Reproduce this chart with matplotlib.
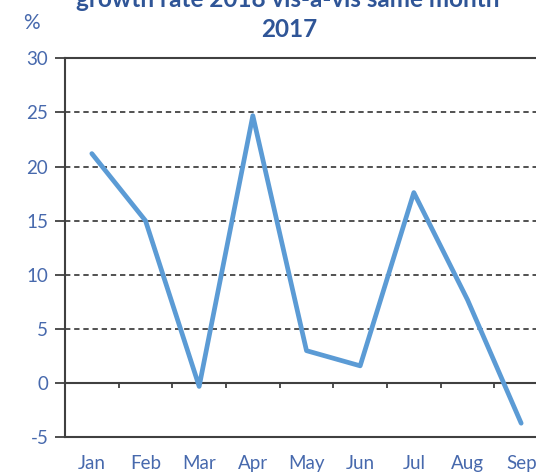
import matplotlib
matplotlib.use('Agg')
import matplotlib.pyplot as plt
import numpy as np

# monthly growth rate, % (2018 vs same month 2017)
months = ['Jan', 'Feb', 'Mar', 'Apr', 'May', 'Jun', 'Jul', 'Aug', 'Sep']
growth = [21.2, 15.0, -0.3, 24.7, 3.0, 1.6, 17.6, 7.7, -3.7]
yticks = [-5, 0, 5, 10, 15, 20, 25, 30]

plt.rcParams['font.family'] = ['Lato', 'DejaVu Sans']

W, H = 536, 475
fig = plt.figure(figsize=(W / 100, H / 100), dpi=100)
ax = fig.add_axes([65 / W, 1 - 437.3 / H, 483 / W, (437.3 - 58.3) / H])

x = np.arange(len(months))
ax.plot(x, growth, color='#5B9BD5', lw=3.4, solid_capstyle='round', solid_joinstyle='round', zorder=3)

ax.set_xlim(-0.5, len(months) - 0.5)
ax.set_ylim(-5, 30)

# dashed gridlines (not at the frame / zero line)
for v in yticks:
    if v not in (-5, 0, 30):
        ax.axhline(v, color='#222222', lw=1.1, ls=(0, (3.5, 2.5)), zorder=1)

# zero line with category boundary ticks
ax.axhline(0, color='#404040', lw=1.5, zorder=2)
bounds = np.arange(len(months) + 1) - 0.5
ax.vlines(bounds[1:], -0.45, 0, color='#404040', lw=1.3, zorder=2)

for s in ['left', 'top', 'bottom']:
    ax.spines[s].set_color('#404040')
    ax.spines[s].set_linewidth(1.5)
ax.spines['right'].set_visible(False)

lab_color = '#4769AD'
ax.set_yticks(yticks)
ax.set_yticklabels([str(v) for v in yticks])
ax.tick_params(axis='y', direction='out', length=7, width=1.3, color='#404040',
               labelcolor=lab_color, labelsize=13.5, pad=5)
ax.set_xticks(x)
ax.set_xticklabels(months)
ax.tick_params(axis='x', length=0, labelcolor=lab_color, labelsize=13.5, pad=12.5)

title_color = '#2F5597'
fig.text(288 / W, 1 - 7 / H, 'growth rate 2018 vis-a-vis same month', ha='center', va='baseline',
         fontsize=17.5, fontweight='bold', color=title_color)
fig.text(289 / W, 1 - 37 / H, '2017', ha='center', va='baseline',
         fontsize=17.5, fontweight='bold', color=title_color)
fig.text(31 / W, 1 - 23 / H, '%', ha='center', va='center', fontsize=15, color=lab_color)

fig.savefig('out.png', dpi=100)
